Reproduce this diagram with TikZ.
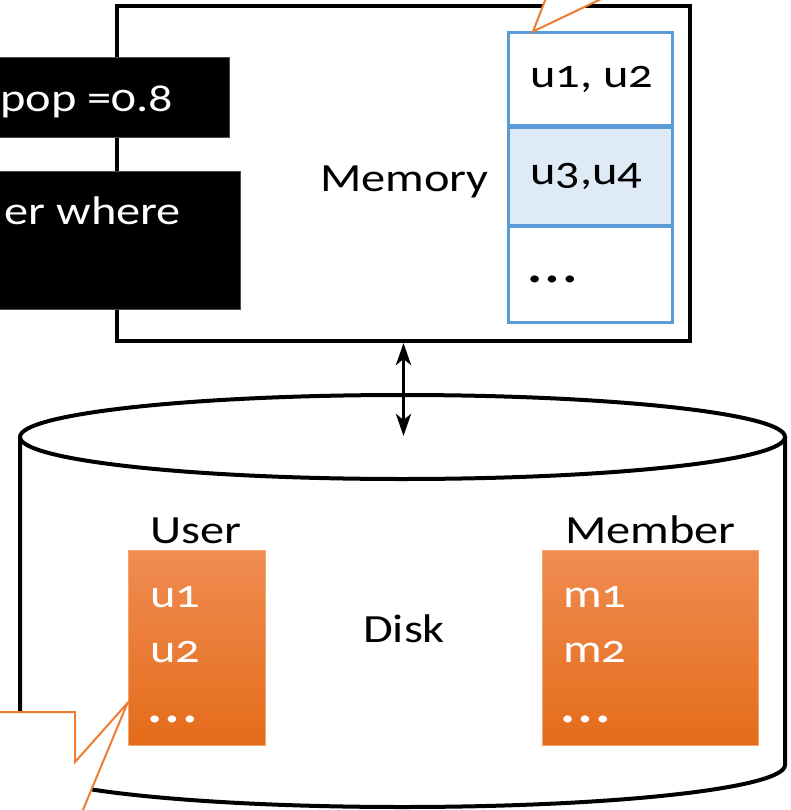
\documentclass[tikz,border=0pt]{standalone}
\usepackage{fontspec}
\setmainfont[FakeStretch=1.21,Numbers=OldStyle]{Carlito}
\usetikzlibrary{arrows.meta}
\definecolor{memblue}{HTML}{5B9BD5}
\definecolor{rowfill}{HTML}{DEEAF6}
\definecolor{calloutorange}{HTML}{ED7D31}
\definecolor{bartop}{HTML}{F08C52}
\definecolor{barmid}{HTML}{F47F28}
\definecolor{barbot}{HTML}{E46C19}
\definecolor{baredge}{HTML}{F4A46E}
\begin{document}
\begin{tikzpicture}[x=1pt,y=-1pt,
  txt/.style={font=\fontsize{40}{42}\selectfont, inner sep=0pt, anchor=base west},
  wtxt/.style={txt, text=white},
  dotstxt/.style={font=\fontsize{58}{60}\selectfont, inner sep=0pt, anchor=base west},
  row/.style={draw=memblue, line width=3pt, minimum width=164pt, inner sep=0pt},
  bar/.style={draw=baredge, line width=1pt, top color=bartop, middle color=barmid, bottom color=barbot, inner sep=0pt, minimum height=195pt},
  blackbox/.style={fill=black, draw=black!70, line width=0.5pt, inner sep=0pt},
  wlabel/.style={font=\fontsize{40}{42}\selectfont, inner sep=0pt, anchor=base east, text=white},
  callout/.style={fill=white, draw=calloutorange, line width=2pt, line join=miter},
  bigtip/.tip={Stealth[length=22pt,width=15pt,inset=6pt]}]
\useasboundingbox (0,0) rectangle (790,810);
\clip (0,0) rectangle (790,810);

% disk cylinder
\filldraw[fill=white, line width=4pt] (20,437) -- (20,765)
  arc[start angle=180, end angle=360, x radius=382.5pt, y radius=42pt] -- (785,437);
\draw[line width=4pt] (402.5,437) ellipse [x radius=382.5pt, y radius=42pt];
\coordinate (disktop) at (403.5,436);

% memory box
\node[draw, line width=4pt, minimum width=573pt, minimum height=334.5pt, inner sep=0pt] (memory) at (403.5,173.75) {};
\node[txt] (memlabel) at (320,192) {Memory};

% memory table
\node[row, minimum height=95pt] (r1) at (590,80.5) {};
\node[row, fill=rowfill, minimum height=98pt] (r2) at (590,177) {};
\node[row, minimum height=96pt] (r3) at (590,274) {};
\draw[memblue, line width=4.5pt] (r2.north west) -- (r2.north east);
\node[txt] (r1t) at (530,88) {u1, u2};
\node[txt] (r2t) at (530,185) {u3,u4};
\node[dotstxt] (r3t) at (528,282) {…};

% black labels over the left edge
\node[blackbox, minimum width=250pt, minimum height=80pt] (popbox) at (104,97) {};
\node[wlabel] (poptext) at (173,112) {pop =0.8};
\node[blackbox, minimum width=261pt, minimum height=138pt] (wherebox) at (109.5,240) {};
\node[wlabel] (wheretext) at (181,225) {er where};

% link between memory and disk
\draw[bigtip-bigtip, line width=3.5pt] (memory.south) -- (disktop);

% disk contents
\node[txt] (diskl) at (363,642) {Disk};
\node[txt] (userl) at (150,543) {User};
\node[txt] (memberl) at (565,543) {Member};
\node[bar, minimum width=137pt] (userbar) at (196.5,647.5) {};
\node[bar, minimum width=216pt] (memberbar) at (650,647.5) {};
\node[wtxt] (u1) at (150,607) {u1};
\node[wtxt] (u2) at (150,662) {u2};
\node[dotstxt, text=white] (u3) at (148,722) {…};
\node[wtxt] (m1) at (563,607) {m1};
\node[wtxt] (m2) at (563,662) {m2};
\node[dotstxt, text=white] (m3) at (561,722) {…};

% callouts
\filldraw[callout] (553,-20) -- (r1.north west -| 533,0) -- (641,-20);
\filldraw[callout] (-20,712) -- (75,712) -- (75,762) -- (userbar.west |- 0,703) -- (75,829) -- (-20,829) -- cycle;
\end{tikzpicture}
\end{document}
